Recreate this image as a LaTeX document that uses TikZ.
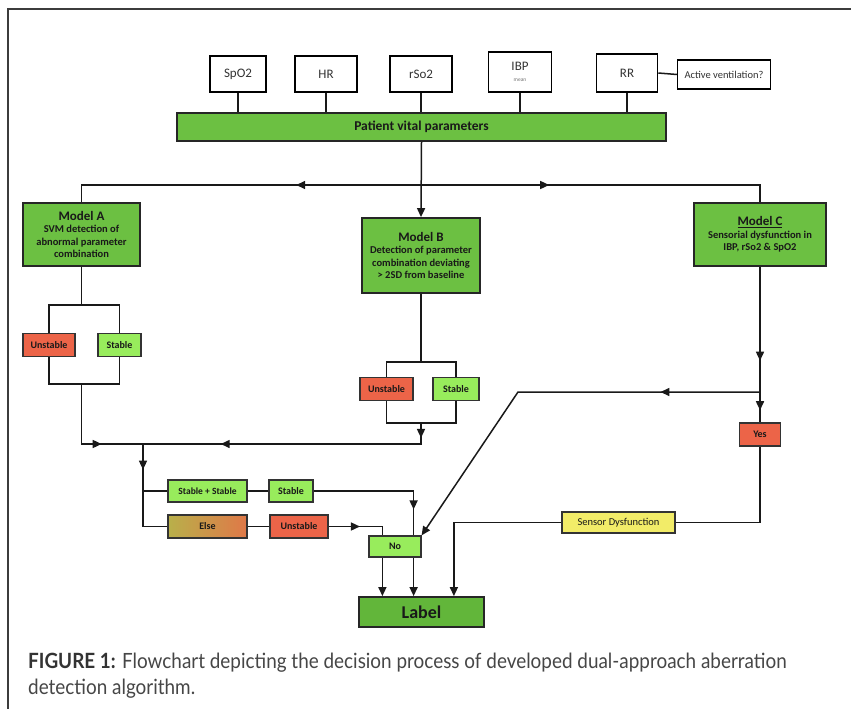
\documentclass[tikz,border=0pt]{standalone}
\usepackage{fontspec}
\setmainfont{Lato}
\newfontfamily\boxfont{Carlito}
\newfontfamily\capfont[FakeStretch=0.9]{Lato}
\usetikzlibrary{arrows.meta,decorations.markings}
\definecolor{mgreen}{RGB}{108,192,66}
\definecolor{lgreen}{RGB}{98,182,58}
\definecolor{pgreen}{RGB}{152,236,92}
\definecolor{sred}{RGB}{236,100,72}
\definecolor{syellow}{RGB}{242,236,104}
\definecolor{elseL}{RGB}{184,176,74}
\definecolor{elseR}{RGB}{224,120,72}
\definecolor{frameg}{RGB}{60,60,60}
\definecolor{capg}{RGB}{70,70,70}
\begin{document}
\begin{tikzpicture}[x=1pt,y=-1pt,
  wbox/.style={draw=black, line width=1.6pt, fill=white, inner sep=0pt, align=center,
    font=\boxfont\fontsize{13}{14}\selectfont, text=black!80},
  gbox/.style={draw=black!85, line width=1.8pt, fill=mgreen, inner sep=0pt, align=center,
    font=\boxfont\bfseries\fontsize{10.5}{12.5}\selectfont, text=black!90},
  sbox/.style={draw=black!80, line width=1.2pt, inner sep=0pt, align=center,
    font=\boxfont\bfseries\fontsize{10}{11}\selectfont, text=black!90},
  conn/.style={line width=1.5pt, draw=black!90},
  ah/.style={-{Triangle[length=9pt,width=8pt]}},
  marr/.style={postaction={decorate}, decoration={markings,
    mark=at position #1 with {\arrow{Triangle[length=9pt,width=8pt]}}}},
  marrtwo/.style 2 args={postaction={decorate}, decoration={markings,
    mark=at position #1 with {\arrow{Triangle[length=9pt,width=8pt]}},
    mark=at position #2 with {\arrow{Triangle[length=9pt,width=8pt]}}}},
]
\useasboundingbox (0,0) rectangle (851,709);
\fill[white] (0,0) rectangle (851,709);
% frame
\draw[frameg, line width=1.6pt] (8,709) -- (8,9) -- (851,9);

% top parameter boxes
\node[wbox, minimum width=56pt, minimum height=36pt] (spo2) at (238,74) {SpO2};
\node[wbox, minimum width=62pt, minimum height=36pt] (hr) at (326,74) {HR};
\node[wbox, minimum width=62pt, minimum height=36pt] (rso2) at (421,74) {rSo2};
\node[wbox, minimum width=63pt, minimum height=40pt] (ibp) at (520,72) {IBP\\[-3pt]{\fontsize{5.5}{6}\selectfont\color{black!55}mean}};
\node[wbox, minimum width=61pt, minimum height=38pt] (rr) at (627,73) {RR};
\node[wbox, minimum width=93pt, minimum height=29pt, line width=1.4pt,
  font=\boxfont\fontsize{10.5}{12}\selectfont] (act) at (724,74.5) {Active ventilation?};
\node[gbox, minimum width=489pt, minimum height=28pt,
  font=\boxfont\bfseries\fontsize{13.5}{15}\selectfont] (bar) at (421.5,127) {Patient vital parameters};

\foreach \b in {spo2,hr,rso2,ibp,rr}
  \draw[conn] (\b.south) -- (\b.south |- bar.north);
\draw[conn] (rr.east) -- (act.west);

% models
\node[gbox, minimum width=117pt, minimum height=63pt] (mA) at (81.5,234.5)
  {{\fontsize{13}{15}\selectfont Model A}\\SVM detection of\\abnormal parameter\\combination};
\node[gbox, minimum width=118pt, minimum height=75pt] (mB) at (421,255.5)
  {{\fontsize{13}{15}\selectfont Model B}\\Detection of parameter\\combination deviating\\{>} 2SD from baseline};
\node[gbox, minimum width=132pt, minimum height=63pt] (mC) at (760,234.5)
  {{\fontsize{13}{15}\selectfont\underline{Model C}}\\Sensorial dysfunction in\\IBP, rSo2 \& SpO2};

\coordinate (jt) at (421,185);
\draw[conn, ah] (bar.south) -- (mB.north);
\draw[conn, marr=0.35] (jt) -- (mA.north |- jt) -- (mA.north);
\draw[conn, marr=0.36] (jt) -- (mC.north |- jt) -- (mC.north);

% Model A outcomes
\coordinate (aB) at (81.5,305);
\coordinate (aJ) at (81.5,384);
\node[sbox, fill=sred, minimum width=52pt, minimum height=23pt] (ua) at (49,345) {Unstable};
\node[sbox, fill=pgreen, minimum width=43pt, minimum height=23pt] (sa) at (119.5,345) {Stable};
\draw[conn] (mA.south) -- (aB);
\draw[conn] (ua.north) -- (ua.north |- aB) -- (sa.north |- aB) -- (sa.north);
\draw[conn] (ua.south) -- (ua.south |- aJ) -- (sa.south |- aJ) -- (sa.south);

% Model B outcomes
\coordinate (bB) at (421,362);
\coordinate (bJ) at (421,423);
\node[sbox, fill=sred, minimum width=53pt, minimum height=23pt] (ub) at (386.5,389) {Unstable};
\node[sbox, fill=pgreen, minimum width=46pt, minimum height=23pt] (sb) at (456,389) {Stable};
\draw[conn] (mB.south) -- (bB);
\draw[conn] (ub.north) -- (ub.north |- bB) -- (sb.north |- bB) -- (sb.north);
\draw[conn] (ub.south) -- (ub.south |- bJ) -- (sb.south |- bJ) -- (sb.south);

% merge
\coordinate (m) at (143,444);
\draw[conn, marr=0.66] (aJ) -- (aJ |- m) -- (m);
\draw[conn, marrtwo={0.05}{0.74}] (bJ) -- (bJ |- m) -- (m);

\node[sbox, fill=pgreen, minimum width=79pt, minimum height=22pt,
  font=\boxfont\bfseries\fontsize{9.5}{11}\selectfont] (ss) at (207.5,491) {Stable + Stable};
\node[sbox, fill=pgreen, minimum width=44pt, minimum height=22pt] (s2) at (291,491) {Stable};
\node[sbox, left color=elseL, right color=elseR, minimum width=79pt, minimum height=23pt] (el) at (207.5,526.5) {Else};
\node[sbox, fill=sred, minimum width=58pt, minimum height=23pt] (u2) at (299,526.5) {Unstable};
\node[sbox, fill=pgreen, minimum width=52pt, minimum height=21pt] (no) at (395,546.5) {No};
\node[gbox, fill=lgreen, minimum width=125pt, minimum height=30pt,
  font=\boxfont\bfseries\fontsize{18}{19}\selectfont] (lab) at (421.5,612) {Label};

\draw[conn, marr=0.24] (m) -- (m |- el.west) -- (el.west);
\draw[conn] (m |- ss.west) -- (ss.west);
\draw[conn] (ss.east) -- (s2.west);
\draw[conn] (el.east) -- (u2.west);

\coordinate (inL) at ([xshift=14pt]no.north west);
\coordinate (inR) at ([xshift=-8pt]no.north east);
\draw[conn, marr=0.82] (s2.east) -| (inR);
\draw[conn, marr=0.5] (u2.east) -| (inL);
\draw[conn, ah] (no.south -| inL) -- (lab.north -| inL);
\draw[conn, ah] (no.south -| inR) -- (lab.north -| inR);

% Model C path
\coordinate (cJ) at (760,392);
\coordinate (dg) at (518,392);
\node[sbox, fill=sred, minimum width=41pt, minimum height=23pt] (yes) at (760,434.5) {Yes};
\node[sbox, fill=syellow, minimum width=113pt, minimum height=21pt,
  font=\boxfont\fontsize{10.5}{12}\selectfont] (sd) at (618.5,522.5) {Sensor Dysfunction};
\draw[conn, marr=0.75] (mC.south) -- (cJ);
\draw[conn, marr=0.6] (cJ) -- (yes.north);
\draw[conn, marr=0.24, ah] (cJ) -- (dg) -- (no.north east);
\draw[conn] (yes.south) |- (sd.east);
\coordinate (sdIn) at ([xshift=-31pt]lab.north east);
\draw[conn, ah] (sd.west) -| (sdIn);

% caption
\node[anchor=base west, inner sep=0pt, text=capg, font=\capfont\fontsize{21}{24}\selectfont] (cap1) at (28,668)
  {{\bfseries\color{black!80}FIGURE 1:} Flowchart depicting the decision process of developed dual-approach aberration};
\node[anchor=base west, inner sep=0pt, text=capg, font=\capfont\fontsize{21}{24}\selectfont] (cap2) at (28,694)
  {detection algorithm.};
\end{tikzpicture}
\end{document}
